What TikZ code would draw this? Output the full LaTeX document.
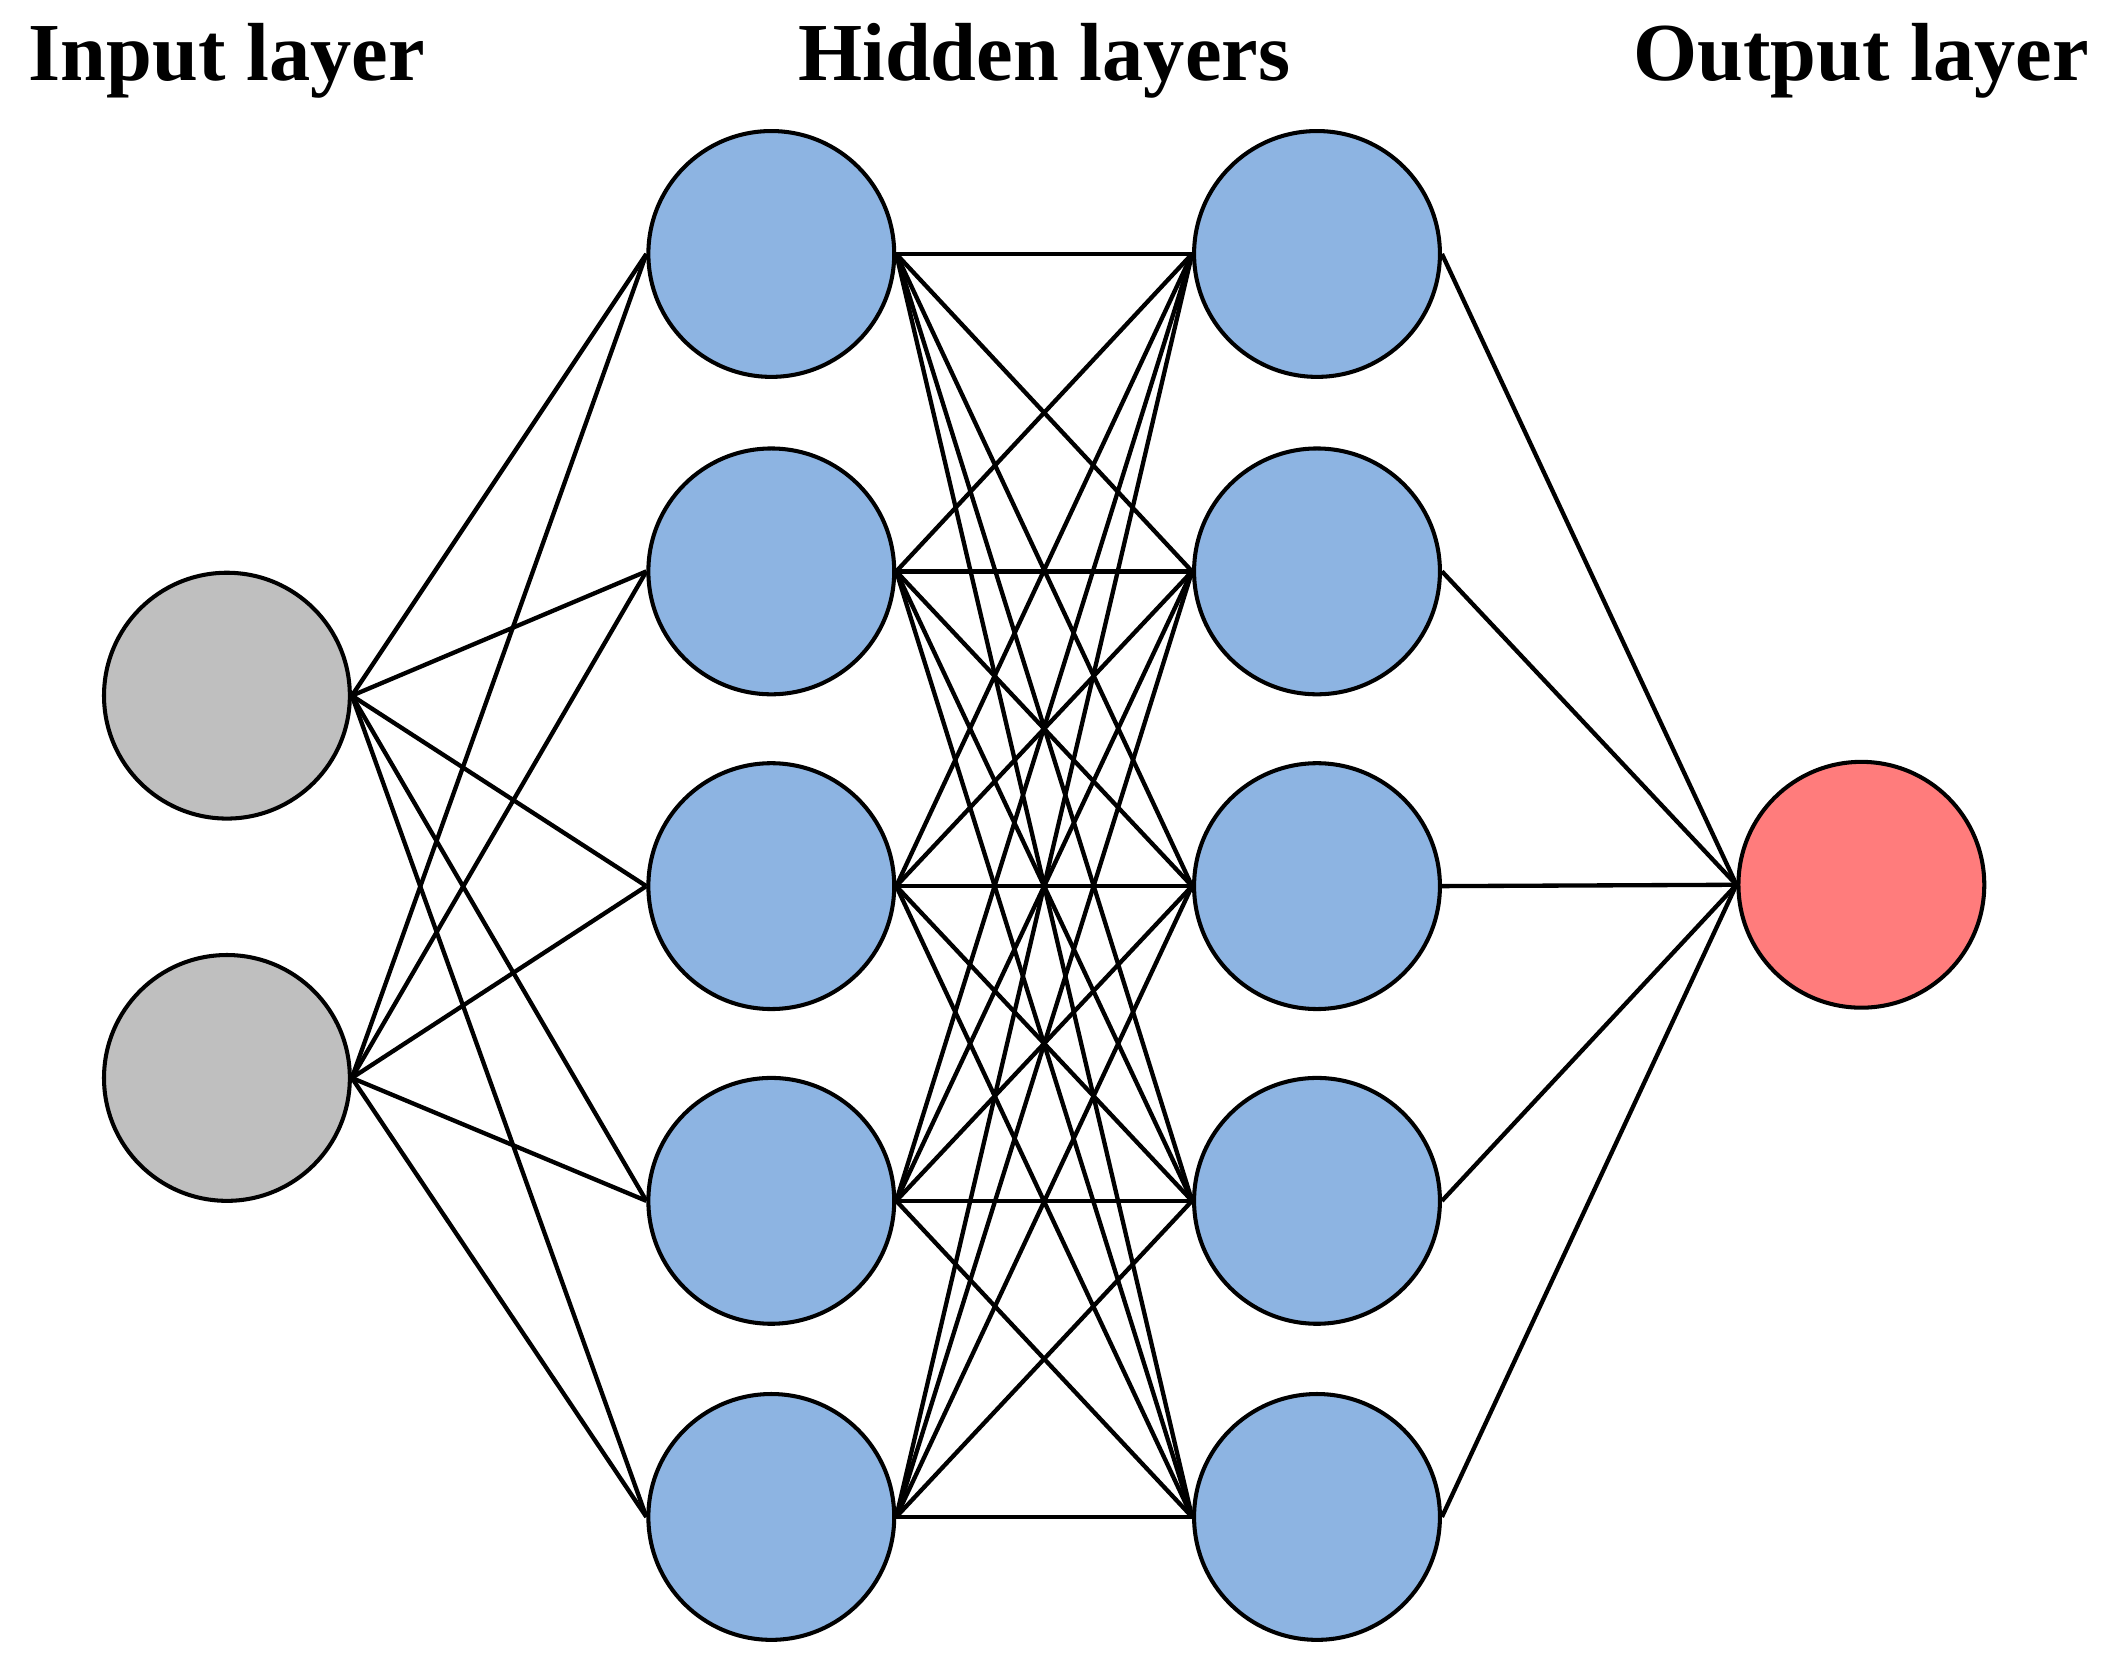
\documentclass[tikz,border=0pt]{standalone}
\usepackage{fontspec}
\setmainfont{Liberation Serif}
\definecolor{ingray}{RGB}{191,191,191}
\definecolor{hidblue}{RGB}{141,180,226}
\definecolor{outred}{RGB}{255,124,124}
\begin{document}
\begin{tikzpicture}[x=0.5pt,y=-0.5pt,
  neuron/.style={circle,draw=black,line width=1.5pt,minimum size=91pt,inner sep=0pt},
  conn/.style={line width=1.6pt},
  lbl/.style={font=\fontsize{30.5}{34}\selectfont\bfseries}]
\useasboundingbox (0,0) rectangle (1568,1238);
\foreach \i/\y in {1/515,2/798} \node[neuron,fill=ingray] (i\i) at (168,\y) {};
\foreach \i/\y in {1/188,2/423,3/656,4/889,5/1123} {
  \node[neuron,fill=hidblue] (a\i) at (571,\y) {};
  \node[neuron,fill=hidblue] (b\i) at (975,\y) {};
}
\node[neuron,fill=outred] (o) at (1378,655) {};
\foreach \i in {1,2} \foreach \j in {1,...,5} \draw[conn] (i\i.east) -- (a\j.west);
\foreach \i in {1,...,5} \foreach \j in {1,...,5} \draw[conn] (a\i.east) -- (b\j.west);
\foreach \i in {1,...,5} \draw[conn] (b\i.east) -- (o.west);
\node[lbl] (t1) at (168,45) {Input layer};
\node[lbl] (t2) at (773,45) {Hidden layers};
\node[lbl] (t3) at (1378,45) {Output layer};
\end{tikzpicture}
\end{document}
